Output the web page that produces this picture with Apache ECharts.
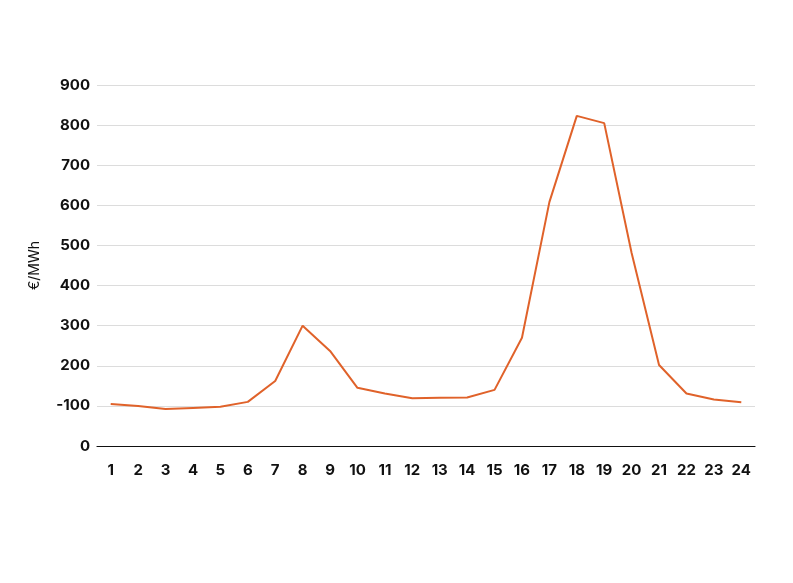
<!DOCTYPE html>
<html>
<head>
<meta charset="utf-8">
<script src="https://cdn.jsdelivr.net/npm/echarts@6/dist/echarts.min.js"></script>
<style>
html,body{margin:0;padding:0;background:#fff;}
#chart{width:793px;height:583px;}
</style>
</head>
<body>
<div id="chart"></div>
<script>
const categories = ['1','2','3','4','5','6','7','8','9','10','11','12','13','14','15','16','17','18','19','20','21','22','23','24'];
const prices = [105, 100, 92, 95, 98, 110, 162, 300, 237, 145, 131, 119, 120, 121, 140, 270, 608, 823, 805, 481, 202, 131, 116, 109];
const yTickValues = [0, 100, 200, 300, 400, 500, 600, 700, 800, 900];
const yTickLabels = ['0', '-100', '200', '300', '400', '500', '600', '700', '800', '900'];
const yAxisTitle = '€/MWh';

const chart = echarts.init(document.getElementById('chart'), null, {renderer: 'canvas'});
chart.setOption({
  animation: false,
  backgroundColor: '#ffffff',
  grid: {left: 97, right: 38, top: 85, bottom: 137},
  xAxis: {
    type: 'category',
    data: categories,
    boundaryGap: true,
    axisLine: {lineStyle: {color: '#111', width: 1.2}},
    axisTick: {show: false},
    axisLabel: {color: '#111', fontFamily: 'Inter', fontWeight: 700, fontSize: 15, margin: 17}
  },
  yAxis: {
    type: 'value',
    min: 0, max: 900, interval: 100,
    name: yAxisTitle,
    nameLocation: 'middle',
    nameGap: 55,
    nameRotate: 90,
    nameTextStyle: {color: '#111', fontFamily: 'Inter', fontSize: 14},
    axisLine: {show: false},
    axisTick: {show: false},
    splitLine: {lineStyle: {color: '#dcdcdc', width: 1}},
    axisLabel: {
      color: '#111', fontFamily: 'Inter', fontWeight: 700, fontSize: 15, margin: 7,
      formatter: function (v) { const i = yTickValues.indexOf(v); return i >= 0 ? yTickLabels[i] : String(v); }
    }
  },
  series: [{
    type: 'line',
    data: prices,
    symbol: 'none',
    lineStyle: {color: '#E0622A', width: 2}
  }]
});
</script>
</body>
</html>
